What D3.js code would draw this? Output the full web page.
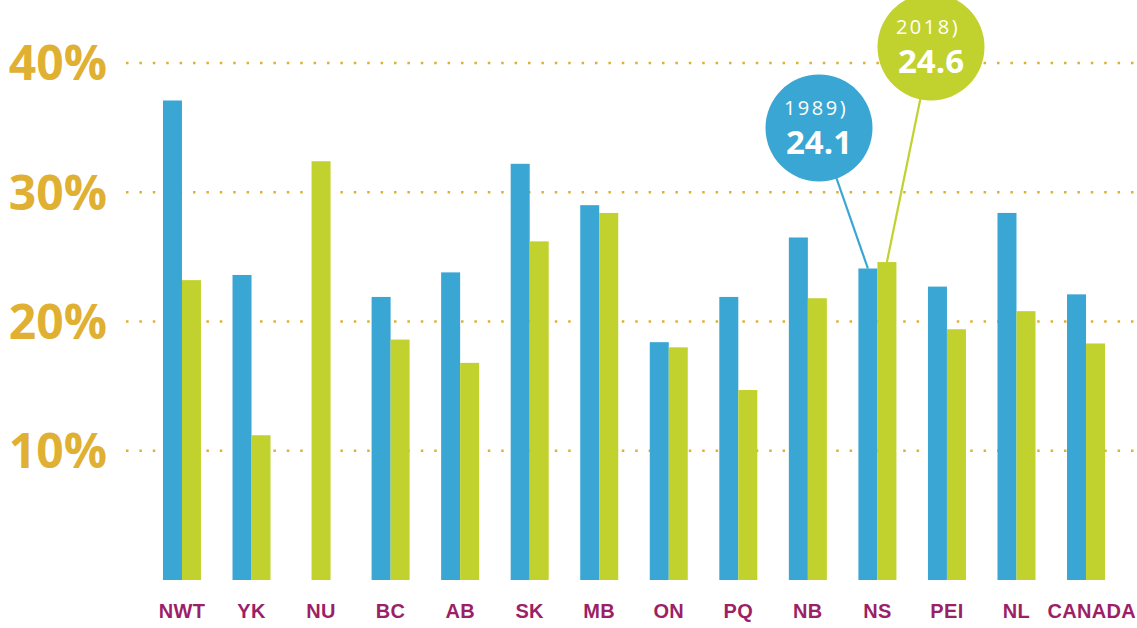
<!DOCTYPE html>
<html>
<head>
    <meta charset="utf-8">
    <title>Chart</title>
    <script src="https://d3js.org/d3.v7.min.js"></script>
    <style>
        body { margin: 0; background: #fff; }
    </style>
</head>
<body>
<script>
    // data
    let categories = ['NWT', 'YK', 'NU', 'BC', 'AB', 'SK', 'MB', 'ON', 'PQ', 'NB', 'NS', 'PEI', 'NL', 'CANADA'];
    let values1989 = [37.1, 23.6, null, 21.9, 23.8, 32.2, 29.0, 18.4, 21.9, 26.5, 24.1, 22.7, 28.4, 22.1];
    let values2018 = [23.2, 11.2, 32.4, 18.6, 16.8, 26.2, 28.4, 18.0, 14.7, 21.8, 24.6, 19.4, 20.8, 18.3];
    let tickValues = [10, 20, 30, 40];
    let tickLabels = ['10%', '20%', '30%', '40%'];
    let callouts = [{year: '1989', series: 0, cat: 'NS', cx: 819, cy: 128},
                    {year: '2018', series: 1, cat: 'NS', cx: 931, cy: 47}];

    let blue = '#39a6d4', green = '#c1d22e', gold = '#e0b033', purple = '#9c1f67';

    let svg = d3.select('body').append('svg').attr('width', 1137).attr('height', 628);

    let y = d3.scaleLinear().domain([0, 40]).range([580, 63]);
    let x = d3.scaleBand().domain(categories).range([147.2, 1120.8])
        .paddingInner(0.4535).paddingOuter(0.4535 / 2);
    let xs = d3.scaleBand().domain([0, 1]).range([0, x.bandwidth()]);

    let rows = categories.map((c, i) => ({cat: c, v: [values1989[i], values2018[i]]}));

    // dotted gridlines
    svg.append('g').selectAll('line').data(tickValues).enter()
        .append('line')
        .attr('x1', 126).attr('x2', 1137)
        .attr('y1', d => y(d)).attr('y2', d => y(d))
        .attr('stroke', gold).attr('stroke-width', 2.5)
        .attr('stroke-dasharray', '2.5 10.9');

    // y labels
    svg.append('g').selectAll('text').data(tickValues).enter()
        .append('text')
        .attr('x', 107).attr('y', d => y(d))
        .attr('dy', '0.36em')
        .attr('text-anchor', 'end')
        .attr('font-family', '"Open Sans", sans-serif')
        .attr('font-weight', 'bold')
        .attr('font-size', 48)
        .attr('fill', gold)
        .text((d, i) => tickLabels[i]);

    // bars
    function barX(d, s) {
        if (d.v[1 - s] == null) return x(d.cat) + (x.bandwidth() - xs.bandwidth()) / 2;
        return x(d.cat) + xs(s);
    }
    [0, 1].forEach(s => {
        svg.append('g').selectAll('rect').data(rows.filter(d => d.v[s] != null)).enter()
            .append('rect')
            .attr('x', d => barX(d, s))
            .attr('width', xs.bandwidth())
            .attr('y', d => y(d.v[s]))
            .attr('height', d => y(0) - y(d.v[s]))
            .attr('fill', s == 0 ? blue : green);
    });

    // category labels (the last one is pushed against the right edge)
    let last = categories.length - 1;
    svg.append('g').selectAll('text').data(categories).enter()
        .append('text')
        .attr('x', (d, i) => i == last ? 1136 : x(d) + x.bandwidth() / 2)
        .attr('y', 618)
        .attr('text-anchor', (d, i) => i == last ? 'end' : 'middle')
        .attr('font-family', '"Liberation Sans Narrow", sans-serif')
        .attr('font-weight', 'bold')
        .attr('font-size', 20)
        .attr('letter-spacing', 0.3)
        .attr('fill', purple)
        .text(d => d);

    // callouts
    let cg = svg.append('g').selectAll('g').data(callouts).enter().append('g');
    cg.append('line')
        .attr('x1', d => d.cx).attr('y1', d => d.cy)
        .attr('x2', d => {
            let r = rows.find(r => r.cat == d.cat);
            return barX(r, d.series) + xs.bandwidth() / 2;
        })
        .attr('y2', d => y(rows.find(r => r.cat == d.cat).v[d.series]))
        .attr('stroke', d => d.series == 0 ? blue : green)
        .attr('stroke-width', 2.2);
    cg.append('circle')
        .attr('cx', d => d.cx).attr('cy', d => d.cy).attr('r', 53.5)
        .attr('fill', d => d.series == 0 ? blue : green);
    cg.append('text')
        .attr('x', d => d.cx - 3).attr('y', d => d.cy - 13)
        .attr('text-anchor', 'middle')
        .attr('font-family', '"Open Sans", sans-serif')
        .attr('font-size', 20)
        .attr('letter-spacing', 2.5)
        .attr('fill', '#fff')
        .text(d => d.year + ')');
    cg.append('text')
        .attr('x', d => d.cx).attr('y', d => d.cy + 26)
        .attr('text-anchor', 'middle')
        .attr('font-family', '"Open Sans", sans-serif')
        .attr('font-weight', 'bold')
        .attr('font-size', 33)
        .attr('fill', '#fff')
        .text(d => d3.format('.1f')(rows.find(r => r.cat == d.cat).v[d.series]));
</script>
</body>
</html>
